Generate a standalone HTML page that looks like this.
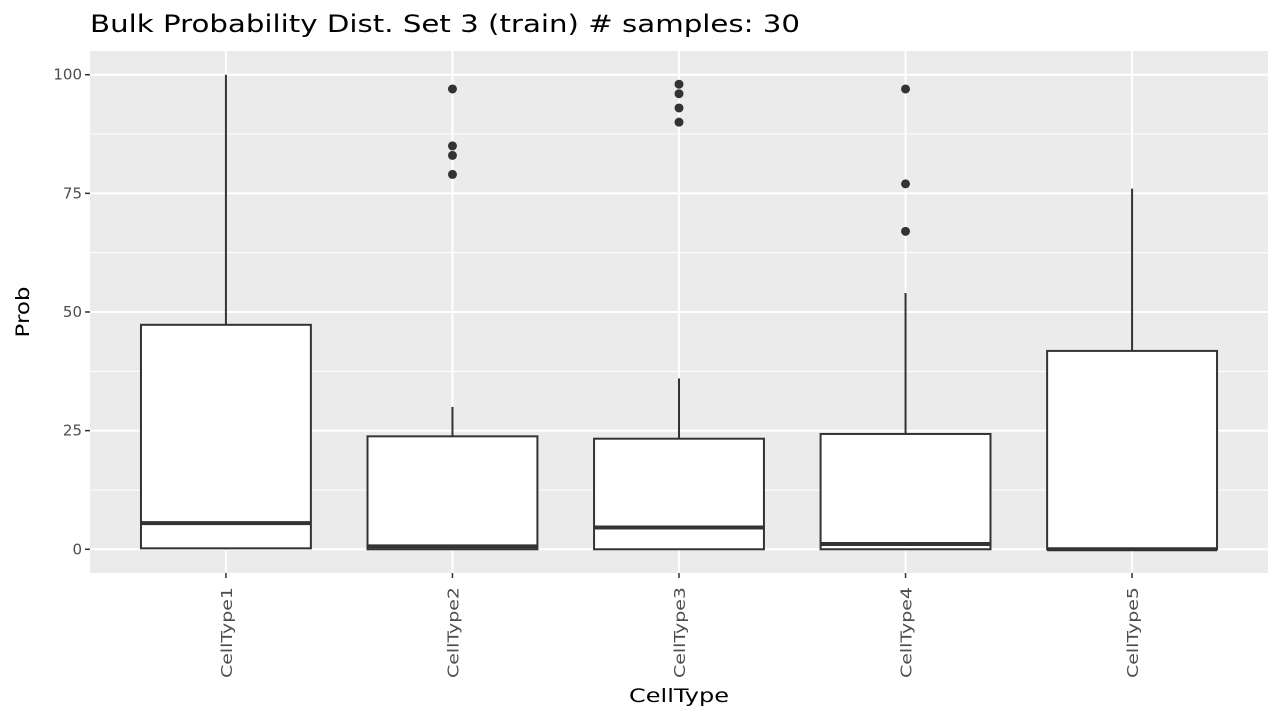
<!DOCTYPE html>
<html><head><meta charset="utf-8"><style>
body{margin:0;background:#fff;}
svg text{font-family:"DejaVu Sans","Liberation Sans",sans-serif;}
</style></head><body>
<svg id="chart" width="1280" height="720" xmlns="http://www.w3.org/2000/svg">
<text x="90" y="32" font-size="24" textLength="710" lengthAdjust="spacingAndGlyphs" fill="#000">Bulk Probability Dist. Set 3 (train) # samples: 30</text>
<rect x="90" y="51" width="1178" height="522" fill="#EBEBEB"/>
<g id="grid"></g><g id="boxes"></g><g id="axes"></g>
<text x="679" y="702" font-size="19" text-anchor="middle" textLength="100" lengthAdjust="spacingAndGlyphs" fill="#000">CellType</text>
<text transform="translate(29,312) rotate(-90)" font-size="19" text-anchor="middle" textLength="51" lengthAdjust="spacingAndGlyphs" fill="#000">Prob</text>
</svg>
<script>
const categories=["CellType1","CellType2","CellType3","CellType4","CellType5"];
const whiskerLow=[0,0,0,0,0];
const q1=[0.2,0,0,0,0];
const medians=[5.5,0.6,4.6,1.1,0];
const q3=[47.3,23.8,23.3,24.3,41.8];
const whiskerHigh=[100,30,36,54,76];
const outliers=[[],[79,83,85,97],[90,93,96,98],[67,77,97],[]];
const yTicks=[0,25,50,75,100];
const NS="http://www.w3.org/2000/svg";
const px0=90,pw=1178,py0=51,ph=522;
const yMin=-5,yMax=105;
function y(v){return py0+ph-(v-yMin)/(yMax-yMin)*ph;}
function x(i){return px0+(i+1-0.4)/(categories.length+0.2)*pw;}
const bw=(pw/(categories.length+0.2))*0.75;
function el(tag,attrs,parent){const e=document.createElementNS(NS,tag);for(const k in attrs)e.setAttribute(k,attrs[k]);parent.appendChild(e);return e;}
const grid=document.getElementById('grid'),boxes=document.getElementById('boxes'),axes=document.getElementById('axes');
for(let i=0;i<yTicks.length-1;i++){
 const m=(yTicks[i]+yTicks[i+1])/2;
 const g=el('line',{x1:px0,x2:px0+pw,y1:y(m),y2:y(m),stroke:'#fff','stroke-width':1},grid);
 
 
}
yTicks.forEach(t=>{
 const g=el('line',{x1:px0,x2:px0+pw,y1:y(t),y2:y(t),stroke:'#fff','stroke-width':2},grid);
 
 
 const tk=el('line',{x1:85,x2:90,y1:y(t),y2:y(t),stroke:'#333','stroke-width':1.5},axes);
 
 
 const tx=el('text',{x:82,y:y(t)+5,'font-size':15,'text-anchor':'end',fill:'#4D4D4D'},axes);
 tx.textContent=t;
 
 
});
categories.forEach((c,i)=>{
 const cx=x(i);
 const g=el('line',{x1:cx,x2:cx,y1:py0,y2:py0+ph,stroke:'#fff','stroke-width':2},grid);
 
 
 const grp=el('g',{},boxes);
 
 
 el('line',{x1:cx,x2:cx,y1:y(whiskerHigh[i]),y2:y(q3[i]),stroke:'#333','stroke-width':2},grp);
 el('line',{x1:cx,x2:cx,y1:y(q1[i]),y2:y(whiskerLow[i]),stroke:'#333','stroke-width':2},grp);
 el('rect',{x:cx-bw/2,y:y(q3[i]),width:bw,height:y(q1[i])-y(q3[i]),fill:'#fff',stroke:'#333','stroke-width':2},grp);
 el('line',{x1:cx-bw/2,x2:cx+bw/2,y1:y(medians[i]),y2:y(medians[i]),stroke:'#333','stroke-width':4},grp);
 outliers[i].forEach(o=>{
  const p=el('circle',{cx:cx,cy:y(o),r:4.5,fill:'#333'},grp);
  
  
 });
 const tk=el('line',{x1:cx,x2:cx,y1:573,y2:578,stroke:'#333','stroke-width':1.5},axes);
 
 
 const tx=el('text',{transform:`translate(${cx+6},587) rotate(-90)`,'font-size':15,'text-anchor':'end',textLength:91,lengthAdjust:'spacingAndGlyphs',fill:'#4D4D4D'},axes);
 tx.textContent=c;
 
 
});
</script>
</body></html>
